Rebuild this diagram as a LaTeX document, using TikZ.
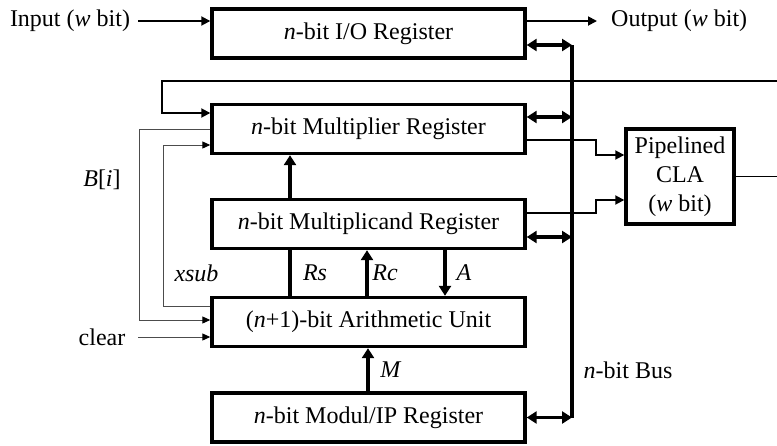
\documentclass[tikz,border=0pt]{standalone}
\usepackage{fontspec}
\setmainfont{Liberation Serif}
\usetikzlibrary{arrows.meta}
\begin{document}
\begin{tikzpicture}[x=1pt,y=-1pt,
  reg/.style={draw,line width=3.4pt,fill=white,minimum width=313pt,minimum height=49pt,inner sep=0pt,font=\fontsize{24}{29}\selectfont},
  lbl/.style={inner sep=0pt,font=\fontsize{24}{29}\selectfont},
  tarrow/.style={line width=3.4pt,-{Triangle[length=10pt,width=12pt]}},
  bidir/.style={line width=3.4pt,{Triangle[length=10pt,width=12pt]}-{Triangle[length=10pt,width=12pt]}},
  med/.style={line width=1.8pt},
  marrow/.style={line width=1.8pt,-{Triangle[length=9pt,width=9pt]}},
  tharrow/.style={line width=1pt,draw=black!70,-{Triangle[length=8pt,width=7pt,color=black]}},
  buscol/.style={line width=3.4pt}
]
\useasboundingbox (0,0) rectangle (777,445);

% registers
\node[reg] (io)  at (368.5,33.5)  {\textit{n}-bit I/O Register};
\node[reg] (mul) at (368.5,129)   {\textit{n}-bit Multiplier Register};
\node[reg] (au)  at (368.5,322)   {(\textit{n}+1)-bit Arithmetic Unit};
\node[reg] (mod) at (368.5,417.5) {\textit{n}-bit Modul/IP Register};

% Rs path passing behind multiplicand register
\draw[tarrow] (au.north -| 290,0) -- (mul.south -| 290,0);

\node[reg] (mc)  at (368.5,224)   {\textit{n}-bit Multiplicand Register};

% CLA
\node[draw,line width=3.4pt,fill=white,minimum width=108pt,minimum height=95pt,inner sep=0pt,align=center,font=\fontsize{24}{29}\selectfont] (cla) at (680,176.5) {Pipelined\\CLA\\(\textit{w} bit)};

% coordinates
\coordinate (edgeTop) at (777,81);
\coordinate (edgeCla) at (777,176.5);
\coordinate (busTop) at (572,45);
\coordinate (busBot) at (572,417.5);

% bus
\draw[buscol] (busTop) -- (busBot);
\draw[bidir] (io.east |- busTop) -- (busTop);
\draw[bidir] (mul.east |- 0,117) -- (572,117);
\draw[bidir] (mc.east |- 0,237) -- (572,237);
\draw[bidir] (mod.east |- busBot) -- (busBot);

% input / output
\node[lbl] (in) at (70,21) {Input (\textit{w} bit)};
\node[lbl,anchor=west] (out) at (611,21) {Output (\textit{w} bit)};
\draw[marrow] (138,21) -- (io.west |- 0,21);
\draw[marrow] (io.east |- 0,21) -- (597,21);

% top feedback
\draw[marrow] (edgeTop) -- (162,81) -- (162,113) -- (mul.west |- 0,113);

% CLA inputs/outputs
\draw[marrow] (mul.east |- 0,140) -- (596,140) -- (596,155) -- (cla.west |- 0,155);
\draw[marrow] (mc.east |- 0,213) -- (596,213) -- (596,200) -- (cla.west |- 0,200);
\draw[med] (cla.east) -- (edgeCla);

% vertical arrows between registers
\draw[tarrow] (au.north -| 367,0) -- (mc.south -| 367,0);
\draw[tarrow] (mc.south -| 445,0) -- (au.north -| 445,0);
\draw[tarrow] (mod.north -| 368,0) -- (au.south -| 368,0);

% control lines
\draw[tharrow] (mul.west |- 0,129) -- (139,129) -- (139,320) -- (au.west |- 0,320);
\draw[tharrow] (au.west |- 0,306) -- (163,306) -- (163,145) -- (mul.west |- 0,145);
\node[lbl] (clr) at (102,337) {clear};
\draw[tharrow] (138,337) -- (au.west |- 0,337);

% labels
\node[lbl] (bi) at (102,180) {\textit{B}[\textit{i}]};
\node[lbl] (xs) at (196.5,273) {\textit{xsub}};
\node[lbl] (rs) at (315,273) {\textit{Rs}};
\node[lbl] (rc) at (385,273) {\textit{Rc}};
\node[lbl] (la) at (464,273) {\textit{A}};
\node[lbl] (lm) at (391,370) {\textit{M}};
\node[lbl] (bus) at (628,370) {\textit{n}-bit Bus};
\end{tikzpicture}
\end{document}
